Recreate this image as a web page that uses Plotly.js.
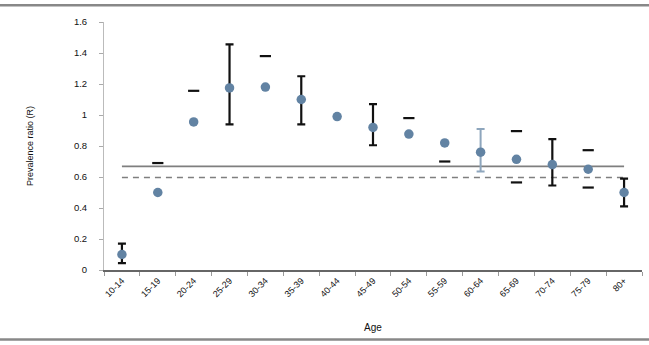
<!DOCTYPE html>
<html>
<head>
<meta charset="utf-8">
<script src="https://cdn.plot.ly/plotly-3.0.1.min.js"></script>
<style>
html,body{margin:0;padding:0;background:#fff;}
#chart{width:649px;height:345px;}
</style>
</head>
<body>
<div id="chart"></div>
<script>
// Data
const ageGroups = ["10-14","15-19","20-24","25-29","30-34","35-39","40-44","45-49","50-54","55-59","60-64","65-69","70-74","75-79","80+"];
const prevalenceRatio = [0.10, 0.50, 0.955, 1.175, 1.18, 1.10, 0.99, 0.92, 0.877, 0.82, 0.76, 0.714, 0.68, 0.65, 0.50];
const ciUpper = [0.17, 0.69, 1.156, 1.455, 1.38, 1.25, null, 1.07, 0.98, null, 0.91, 0.896, 0.844, 0.773, 0.59];
const ciLower = [0.045, null, null, 0.94, null, 0.94, null, 0.805, null, 0.70, 0.636, 0.565, 0.545, 0.532, 0.41];
// groups whose interval is drawn with a full bar (others only show caps)
const fullBarGroups = ["10-14","25-29","35-39","45-49","70-74","80+"];
const lightBarGroups = ["60-64"];
const overallRatio = 0.668;
const referenceRatio = 0.597;
const yTicks = [0, 0.2, 0.4, 0.6, 0.8, 1, 1.2, 1.4, 1.6];

function pick(groups) {
  const x = [], y = [], up = [], dn = [];
  ageGroups.forEach((g, i) => {
    if (groups.includes(g)) {
      x.push(g); y.push(prevalenceRatio[i]);
      up.push(ciUpper[i] - prevalenceRatio[i]);
      dn.push(prevalenceRatio[i] - ciLower[i]);
    }
  });
  return {x, y, up, dn};
}
const full = pick(fullBarGroups);
const light = pick(lightBarGroups);
const capX = [], capY = [];
ageGroups.forEach((g, i) => {
  if (!fullBarGroups.includes(g) && !lightBarGroups.includes(g)) {
    if (ciUpper[i] != null) { capX.push(g); capY.push(ciUpper[i]); }
    if (ciLower[i] != null) { capX.push(g); capY.push(ciLower[i]); }
  }
});

const first = ageGroups[0], last = ageGroups[ageGroups.length - 1];
const traces = [
  {x: [first, last], y: [overallRatio, overallRatio], mode: 'lines', line: {color: '#7f7f7f', width: 1.8}, hoverinfo: 'skip'},
  {x: [first, last], y: [referenceRatio, referenceRatio], mode: 'lines', line: {color: '#7f7f7f', width: 1.5, dash: '6px,5px'}, hoverinfo: 'skip'},
  {x: full.x, y: full.y, mode: 'markers', marker: {size: 1, color: 'rgba(0,0,0,0)'},
   error_y: {type: 'data', symmetric: false, array: full.up, arrayminus: full.dn, color: '#111', thickness: 2.2, width: 4}},
  {x: light.x, y: light.y, mode: 'markers', marker: {size: 1, color: 'rgba(0,0,0,0)'},
   error_y: {type: 'data', symmetric: false, array: light.up, arrayminus: light.dn, color: '#8ea6bd', thickness: 2, width: 4}},
  {x: capX, y: capY, mode: 'markers', marker: {symbol: 'line-ew', size: 8, line: {color: '#111', width: 2.2}}},
  {x: ageGroups, y: prevalenceRatio, mode: 'markers', marker: {symbol: 'circle', size: 9.5, color: '#6283a3'}}
];

const layout = {
  width: 649, height: 345,
  margin: {l: 104, r: 7, t: 22, b: 75},
  paper_bgcolor: '#fff', plot_bgcolor: '#fff',
  showlegend: false,
  font: {family: 'Liberation Sans, Arial, sans-serif', size: 9, color: '#111'},
  xaxis: {
    type: 'category', categoryorder: 'array', categoryarray: ageGroups,
    range: [-0.5, ageGroups.length - 0.5],
    tickangle: -45, tickson: 'boundaries', ticks: 'outside', ticklen: 4, tickcolor: '#999',
    showline: true, linecolor: '#666', linewidth: 2, showgrid: false, zeroline: false,
    tickfont: {size: 9, color: '#111'},
    title: {text: 'Age', font: {size: 10, color: '#111'}, standoff: 26}
  },
  yaxis: {
    range: [0, 1.6], tickvals: yTicks, ticktext: yTicks.map(v => String(v)),
    ticks: 'outside', ticklen: 4, tickcolor: '#aaa', ticklabelstandoff: 10,
    showline: true, linecolor: '#bbb', linewidth: 1, showgrid: false, zeroline: false,
    tickfont: {size: 9.5, color: '#111'},
    title: {text: 'Prevalence ratio (R)', font: {size: 9, color: '#111'}, standoff: 38}
  },
  shapes: [
    {type: 'line', xref: 'paper', yref: 'paper', x0: -0.2, x1: 1.02, y0: 1.068, y1: 1.068, line: {color: '#888', width: 2.5}},
    {type: 'line', xref: 'paper', yref: 'paper', x0: -0.2, x1: 1.02, y0: -0.28, y1: -0.28, line: {color: '#888', width: 2.5}}
  ]
};

Plotly.newPlot('chart', traces, layout, {displayModeBar: false, staticPlot: true});
</script>
</body>
</html>
